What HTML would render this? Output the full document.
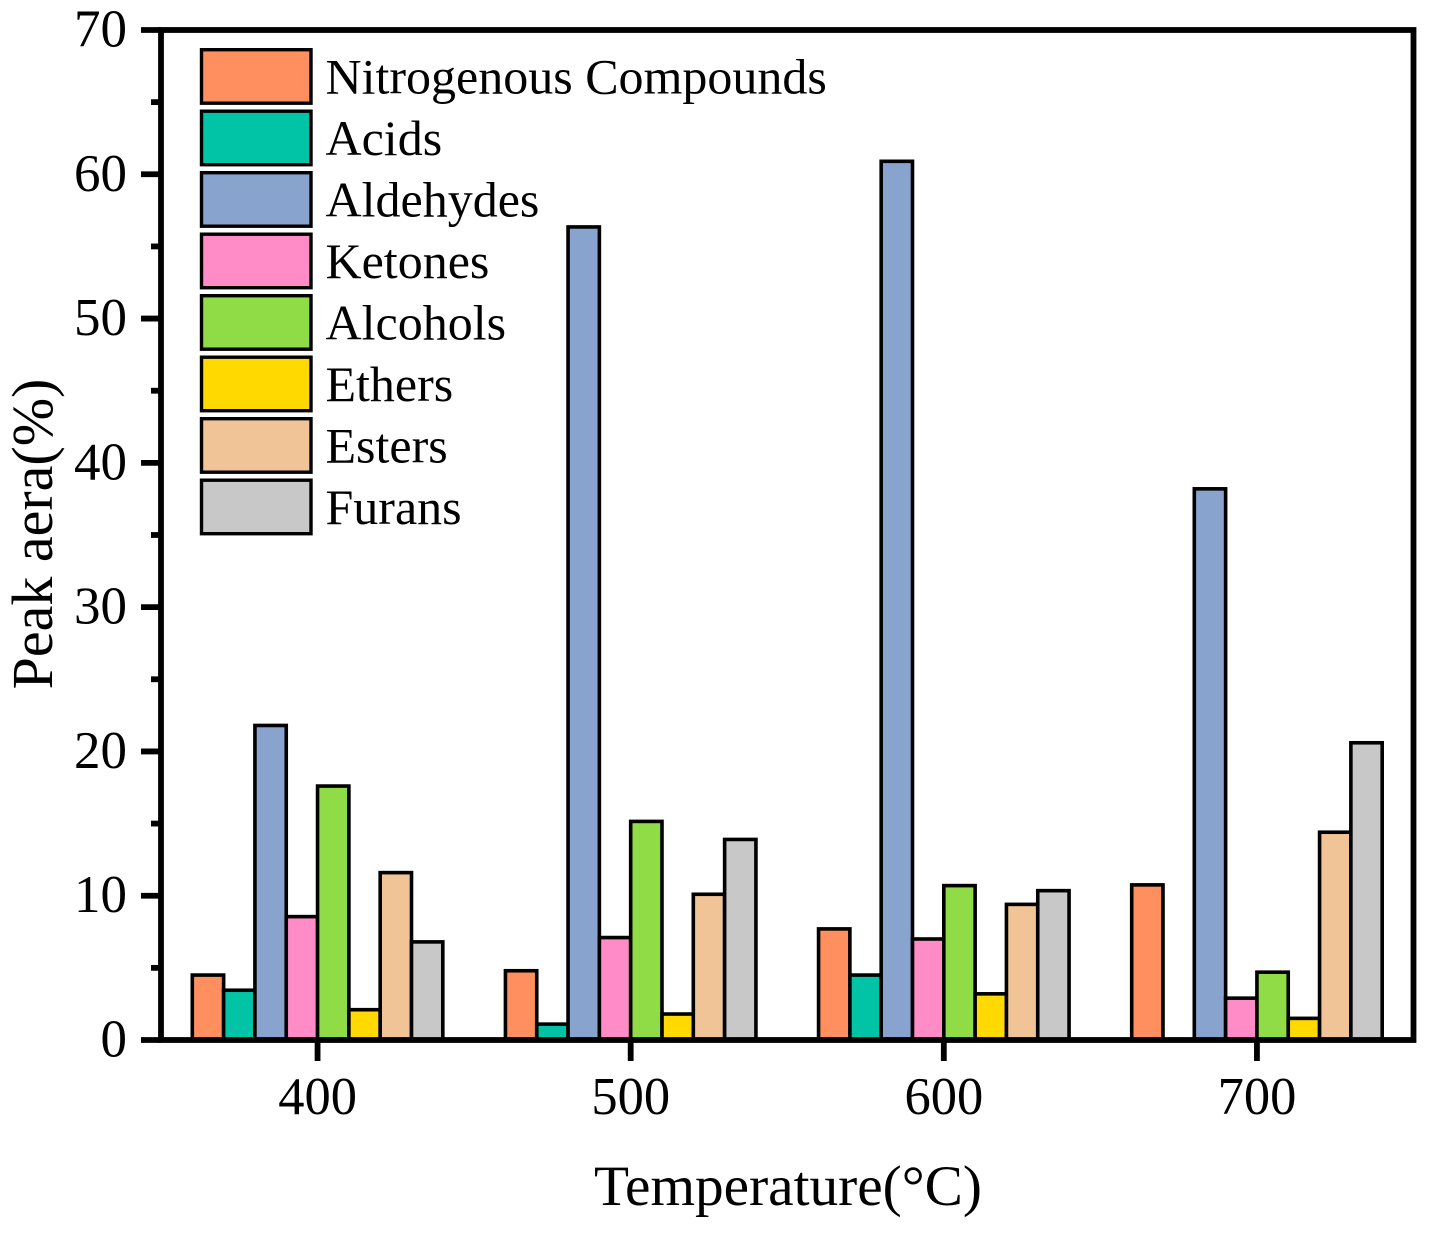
<!DOCTYPE html>
<html lang="en">
<head>
<meta charset="utf-8">
<title>Peak area by temperature</title>
<style>
html,body{margin:0;padding:0;background:#fff;}
svg{display:block;}
text{font-family:"Liberation Serif",serif;fill:#000;}
</style>
</head>
<body>
<svg id="chart" xmlns="http://www.w3.org/2000/svg" width="1451" height="1233" viewBox="0 0 1451 1233">
<rect x="0" y="0" width="1451" height="1233" fill="#fff"/>
<g id="bars"></g>
<g id="axes"></g>
<g id="legend"></g>
<text x="788" y="1205" font-size="57.3" text-anchor="middle">Temperature(°C)</text>
<text transform="translate(52,534) rotate(-90)" font-size="58" text-anchor="middle">Peak aera(%)</text>
</svg>
<script>
const categories = [400, 500, 600, 700];
const seriesNames = ["Nitrogenous Compounds", "Acids", "Aldehydes", "Ketones", "Alcohols", "Ethers", "Esters", "Furans"];
const seriesColors = ["#FF8F5F", "#00C4A5", "#89A3CF", "#FF8CC6", "#90DC47", "#FFD900", "#F0C496", "#C8C8C8"];
const nitrogenous = [4.5, 4.8, 7.7, 10.75];
const acids = [3.45, 1.1, 4.5, 0];
const aldehydes = [21.8, 56.35, 60.9, 38.2];
const ketones = [8.55, 7.1, 7.0, 2.9];
const alcohols = [17.6, 15.15, 10.7, 4.7];
const ethers = [2.1, 1.8, 3.2, 1.5];
const esters = [11.6, 10.1, 9.4, 14.4];
const furans = [6.8, 13.9, 10.35, 20.6];
const seriesValues = [nitrogenous, acids, aldehydes, ketones, alcohols, ethers, esters, furans];
const yTickLabels = [0, 10, 20, 30, 40, 50, 60, 70];
const yMinorTicks = [5, 15, 25, 35, 45, 55, 65];

const NS = 'http://www.w3.org/2000/svg';
const plot = { left: 161, right: 1413.5, top: 30, bottom: 1040 };
const xDomain = [350, 750];
const yDomain = [0, 70];
const groupWidth = 80;

function xScale(v) {
  return plot.left + (v - xDomain[0]) / (xDomain[1] - xDomain[0]) * (plot.right - plot.left);
}
function yScale(v) {
  return plot.bottom - (v - yDomain[0]) / (yDomain[1] - yDomain[0]) * (plot.bottom - plot.top);
}
function make(tag, attrs, parent) {
  const el = document.createElementNS(NS, tag);
  for (const k in attrs) el.setAttribute(k, attrs[k]);
  parent.appendChild(el);
  return el;
}

const barsGroup = document.getElementById('bars');
const axesGroup = document.getElementById('axes');
const legendGroup = document.getElementById('legend');

const barUnits = groupWidth / seriesValues.length;
seriesValues.forEach(function (values, s) {
  values.forEach(function (value, c) {
    if (value <= 0) return;
    const x0 = xScale(categories[c] - groupWidth / 2 + s * barUnits);
    const x1 = xScale(categories[c] - groupWidth / 2 + (s + 1) * barUnits);
    const bar = make('rect', {
      x: x0, y: yScale(value), width: x1 - x0, height: yScale(0) - yScale(value),
      fill: seriesColors[s], stroke: '#000', 'stroke-width': 3.6
    }, barsGroup);
    
    
  });
});

function line(x1, y1, x2, y2, parent) {
  return make('line', { x1: x1, y1: y1, x2: x2, y2: y2, stroke: '#000', 'stroke-width': 5.8, 'stroke-linecap': 'butt' }, parent);
}

const frame = make('rect', {
  x: plot.left, y: plot.top, width: plot.right - plot.left, height: plot.bottom - plot.top,
  fill: 'none', stroke: '#000', 'stroke-width': 5.8
}, axesGroup);



yTickLabels.forEach(function (v) {
  const tick = line(141, yScale(v), plot.left, yScale(v), axesGroup);
  
  
  const label = make('text', { x: 127, y: yScale(v) + 16.5, 'font-size': 53, 'text-anchor': 'end' }, axesGroup);
  label.textContent = v;
  
  
});
yMinorTicks.forEach(function (v) {
  const tick = line(151, yScale(v), plot.left, yScale(v), axesGroup);
  
  
});
categories.forEach(function (c) {
  const tick = line(xScale(c), plot.bottom, xScale(c), 1061, axesGroup);
  
  
  const label = make('text', { x: xScale(c), y: 1114, 'font-size': 52.5, 'text-anchor': 'middle' }, axesGroup);
  label.textContent = c;
  
  
});

const legendStep = 61.5;
seriesNames.forEach(function (name, i) {
  const entry = make('g', {}, legendGroup);
  const slug = name.toLowerCase().replace(/\s+/g, '-');
  
  
  const swatch = make('rect', {
    x: 201.5, y: 49.7 + i * legendStep, width: 109.5, height: 53.5,
    fill: seriesColors[i], stroke: '#000', 'stroke-width': 3.4
  }, entry);
  
  
  const label = make('text', { x: 325.5, y: 93.3 + i * legendStep, 'font-size': 50 }, entry);
  label.textContent = name;
  
  
});
</script>
</body>
</html>
